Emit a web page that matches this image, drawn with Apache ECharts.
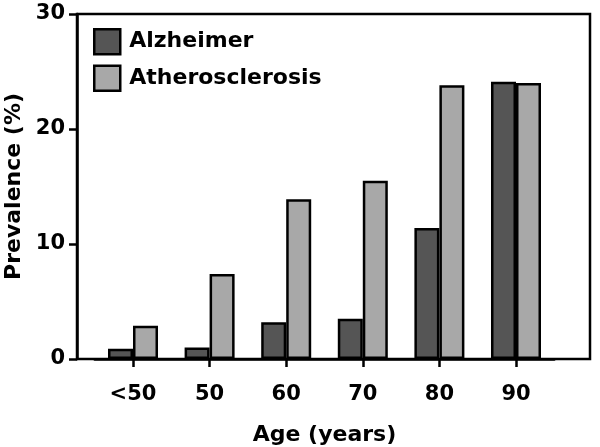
<!DOCTYPE html>
<html><head><meta charset="utf-8">
<script src="https://cdn.jsdelivr.net/npm/echarts@6/dist/echarts.min.js"></script>
<style>html,body{margin:0;padding:0;background:#fff}#c{width:600px;height:447px}</style>
</head><body><div id="c"></div>
<script>
const categories = ['<50', '50', '60', '70', '80', '90'];
const alzheimer = [0.9, 1.0, 3.2, 3.5, 11.4, 24.1];
const atherosclerosis = [2.9, 7.4, 13.9, 15.5, 23.8, 24.0];
const yTicks = [0, 10, 20, 30];

const FONT = '"DejaVu Sans", sans-serif';
const chart = echarts.init(document.getElementById('c'), null, {renderer: 'canvas'});
chart.setOption({
  animation: false,
  backgroundColor: '#fff',
  textStyle: {fontFamily: FONT},
  legend: {
    orient: 'vertical', left: 93, top: 28, padding: 0, itemWidth: 26, itemHeight: 25, itemGap: 9,
    icon: 'rect',
    textStyle: {fontFamily: FONT, fontSize: 22, fontWeight: 'bold', color: '#000', padding: [0,0,0,4]},
    itemStyle: {borderColor: '#000', borderWidth: 2.5},
    data: ['Alzheimer', 'Atherosclerosis']
  },
  grid: [
    {left: 77, right: 10, top: 14, bottom: 88, outerBoundsMode: 'none', containLabel: false,
     show: true, borderColor: '#000', borderWidth: 2.5, backgroundColor: 'transparent', z: 5},
    {left: 94.7, width: 459.6, top: 14, bottom: 88, outerBoundsMode: 'none', containLabel: false}
  ],
  xAxis: [
    {gridIndex: 0, type: 'category', data: categories, show: false},
    {gridIndex: 1, type: 'category', data: categories,
     axisLine: {show: true, lineStyle: {color: '#000', width: 2.5}},
     axisTick: {show: true, alignWithLabel: true, length: 8, lineStyle: {color: '#000', width: 2.5}},
     axisLabel: {fontFamily: FONT, fontSize: 21, fontWeight: 'bold', color: '#000', margin: 25},
     name: 'Age (years)', nameLocation: 'middle', nameGap: 65,
     nameTextStyle: {fontFamily: FONT, fontSize: 22, fontWeight: 'bold', color: '#000'}
    }
  ],
  yAxis: [
    {gridIndex: 0, type: 'value', min: yTicks[0], max: yTicks[yTicks.length-1], interval: 10,
     splitLine: {show: false},
     axisLine: {show: true, lineStyle: {color: '#000', width: 2.5}},
     axisTick: {show: true, length: 8, lineStyle: {color: '#000', width: 2.5}},
     axisLabel: {fontFamily: FONT, fontSize: 21, fontWeight: 'bold', color: '#000', margin: 12},
     name: 'Prevalence (%)', nameLocation: 'middle', nameGap: 52, nameRotate: 90,
     nameTextStyle: {fontFamily: FONT, fontSize: 22, fontWeight: 'bold', color: '#000'}
    },
    {gridIndex: 1, type: 'value', min: yTicks[0], max: yTicks[yTicks.length-1], interval: 10, show: false}
  ],
  series: [
    {name: 'Alzheimer', type: 'bar', xAxisIndex: 1, yAxisIndex: 1, data: alzheimer,
     barWidth: 25, barGap: '0%',
     itemStyle: {color: '#555555', borderColor: '#000', borderWidth: 2.5}},
    {name: 'Atherosclerosis', type: 'bar', xAxisIndex: 1, yAxisIndex: 1, data: atherosclerosis,
     barWidth: 25, barGap: '0%',
     itemStyle: {color: '#a8a8a8', borderColor: '#000', borderWidth: 2.5}}
  ]
});
</script></body></html>
